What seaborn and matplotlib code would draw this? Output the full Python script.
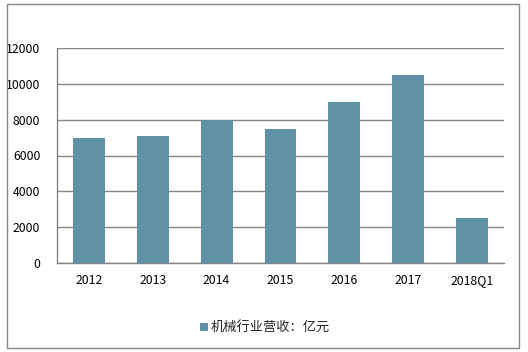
import matplotlib
matplotlib.use('Agg')
import matplotlib.pyplot as plt
import matplotlib.patches as mpatches
import seaborn as sns
import pandas as pd

# data
years = ['2012', '2013', '2014', '2015', '2016', '2017', '2018Q1']
revenue = [7000, 7100, 8000, 7500, 9000, 10500, 2500]
series_name = '机械行业营收：亿元'

df = pd.DataFrame({'year': years, 'revenue': revenue})

sns.set_style('white')
plt.rcParams['font.family'] = ['Noto Sans CJK SC', 'DejaVu Sans']

fig = plt.figure(figsize=(5.28, 3.52), dpi=100)
ax = fig.add_axes([57 / 528, 1 - 263 / 352, (504 - 57) / 528, (263 - 48) / 352])

sns.barplot(data=df, x='year', y='revenue', color='#5E91A6', width=0.5,
            saturation=1, linewidth=0, label=series_name, ax=ax, zorder=3)

ax.set_ylim(0, 12000)
ax.set_xlim(-0.5, 6.5)
ax.set_yticks(range(0, 12001, 2000))
ax.yaxis.grid(True, color='#868686', linewidth=1, zorder=0)
ax.set_axisbelow(True)
ax.set_xlabel('')
ax.set_ylabel('')
for s in ['top', 'right']:
    ax.spines[s].set_visible(False)
for s in ['left', 'bottom']:
    ax.spines[s].set_color('#868686')
    ax.spines[s].set_linewidth(1)
ax.tick_params(axis='both', length=0, labelsize=8.8, colors='black')
ax.tick_params(axis='y', pad=12)
ax.tick_params(axis='x', pad=8)

handles, labels = ax.get_legend_handles_labels()
if ax.get_legend() is not None:
    ax.get_legend().remove()
fig.legend(handles, labels, loc='center', bbox_to_anchor=(265 / 528, 1 - 328 / 352),
           frameon=False, fontsize=9.5, handlelength=0.6, handleheight=0.6,
           handletextpad=0.2)

# outer chart border
fig.patches.append(mpatches.Rectangle((7 / 528, 4 / 352), 512 / 528, 344 / 352,
                                      transform=fig.transFigure, fill=False,
                                      edgecolor='#868686', linewidth=1))

fig.savefig('out.png', dpi=100)
